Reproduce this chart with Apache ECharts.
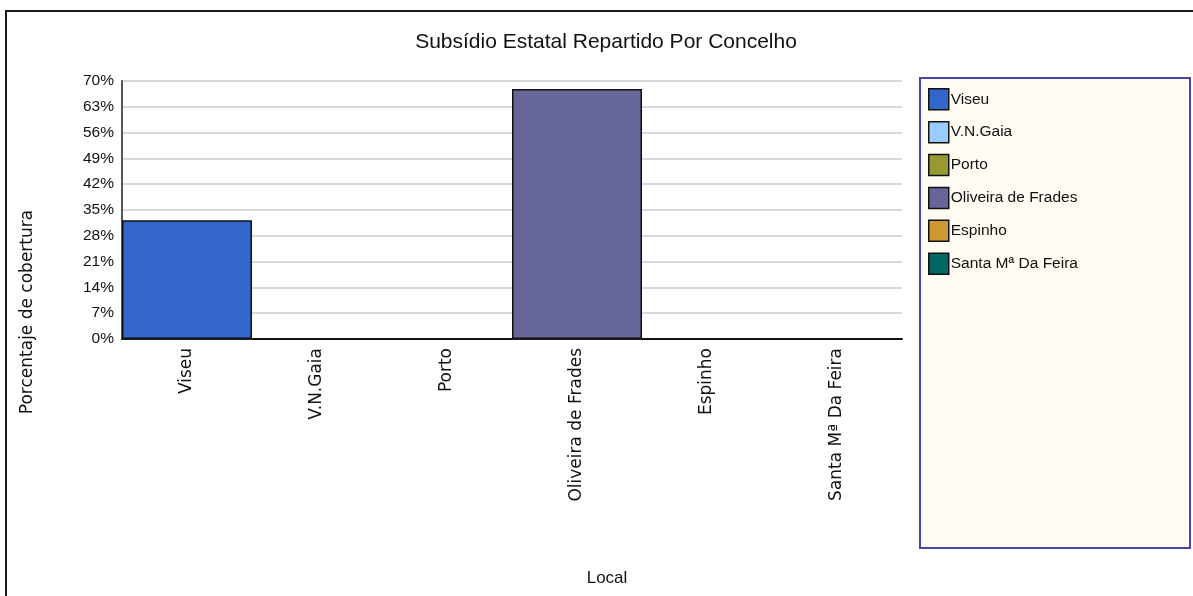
<!DOCTYPE html>
<html>
<head>
<meta charset="utf-8">
<script src="https://cdn.jsdelivr.net/npm/echarts@6/dist/echarts.min.js"></script>
<style>
  html, body { margin: 0; padding: 0; background: #ffffff; }
  #chart { width: 1193px; height: 596px; }
</style>
</head>
<body>
<div id="chart"></div>
<script>
// Concelhos and their share of the state subsidy (%)
const categories = ['Viseu', 'V.N.Gaia', 'Porto', 'Oliveira de Frades', 'Espinho', 'Santa Mª Da Feira'];
const values = [32.2, 0, 0, 67.8, 0, 0];
const colors = ['#3366cc', '#99ccff', '#999933', '#666699', '#cc9933', '#006666'];
const yTicks = [0, 7, 14, 21, 28, 35, 42, 49, 56, 63, 70];

// One series per concelho so each gets its own legend entry;
// stacking keeps every bar at full category width.
const series = categories.map((name, i) => ({
  name: name,
  type: 'bar',
  stack: 'total',
  barCategoryGap: '0%',
  itemStyle: { color: colors[i], borderColor: '#111111', borderWidth: 1.5 },
  emphasis: { disabled: true },
  data: values.map((v, j) => (j === i ? v : '-'))
}));

const chart = echarts.init(document.getElementById('chart'), null, { renderer: 'canvas' });
chart.setOption({
  animation: false,
  backgroundColor: '#ffffff',
  title: {
    text: 'Subsídio Estatal Repartido Por Concelho',
    left: 601,
    textAlign: 'center',
    top: 27,
    textStyle: { fontFamily: 'Liberation Sans', fontSize: 21, fontWeight: 'normal', color: '#111111' }
  },
  graphic: [
    {
      type: 'rect', silent: true, z: -10,
      shape: { x: 6, y: 11, width: 1200, height: 600 },
      style: { fill: 'none', stroke: '#1a1a1a', lineWidth: 2 }
    },
    {
      type: 'rect', silent: true, z: 0,
      shape: { x: 920, y: 78, width: 270, height: 470 },
      style: { fill: '#fffaf2', stroke: '#4646a8', lineWidth: 2 }
    },
    {
      // vertical axis title, centred on the page height
      type: 'text', silent: true,
      x: 28, y: 312, rotation: Math.PI / 2,
      style: {
        text: 'Porcentaje de cobertura',
        fontFamily: 'DejaVu Sans', fontSize: 17, fill: '#111111',
        align: 'center', verticalAlign: 'middle'
      }
    },
    {
      // horizontal axis title
      type: 'text', silent: true,
      x: 607, y: 578,
      style: {
        text: 'Local',
        fontFamily: 'Liberation Sans', fontSize: 17, fill: '#111111',
        align: 'center', verticalAlign: 'middle'
      }
    }
  ],
  legend: {
    orient: 'vertical',
    left: 928,
    top: 88,
    padding: 0,
    itemWidth: 20,
    itemHeight: 21,
    itemGap: 10.4,
    icon: 'rect',
    selectedMode: false,
    itemStyle: { borderColor: '#111111', borderWidth: 1.5 },
    textStyle: { fontFamily: 'Liberation Sans', fontSize: 15.5, color: '#111111', padding: [0, 0, 0, -3] },
    data: categories
  },
  grid: { left: 122, right: 291, top: 81, bottom: 257, containLabel: false },
  xAxis: {
    type: 'category',
    data: categories,
    axisLine: { lineStyle: { color: '#222222', width: 2 } },
    axisTick: { show: false },
    axisLabel: {
      interval: 0,
      rotate: 90,
      margin: 9,
      fontFamily: 'DejaVu Sans',
      fontSize: 17,
      color: '#111111'
    }
  },
  yAxis: {
    type: 'value',
    min: 0,
    max: 70,
    interval: 7,
    axisLine: { show: true, lineStyle: { color: '#555555', width: 2 } },
    axisTick: { show: false },
    axisLabel: {
      margin: 8,
      fontFamily: 'Liberation Sans',
      fontSize: 15.5,
      color: '#111111',
      formatter: v => (yTicks.includes(v) ? v + '%' : '')
    },
    splitLine: { lineStyle: { color: '#d8d8d8', width: 2 } }
  },
  series: series
});
</script>
</body>
</html>
